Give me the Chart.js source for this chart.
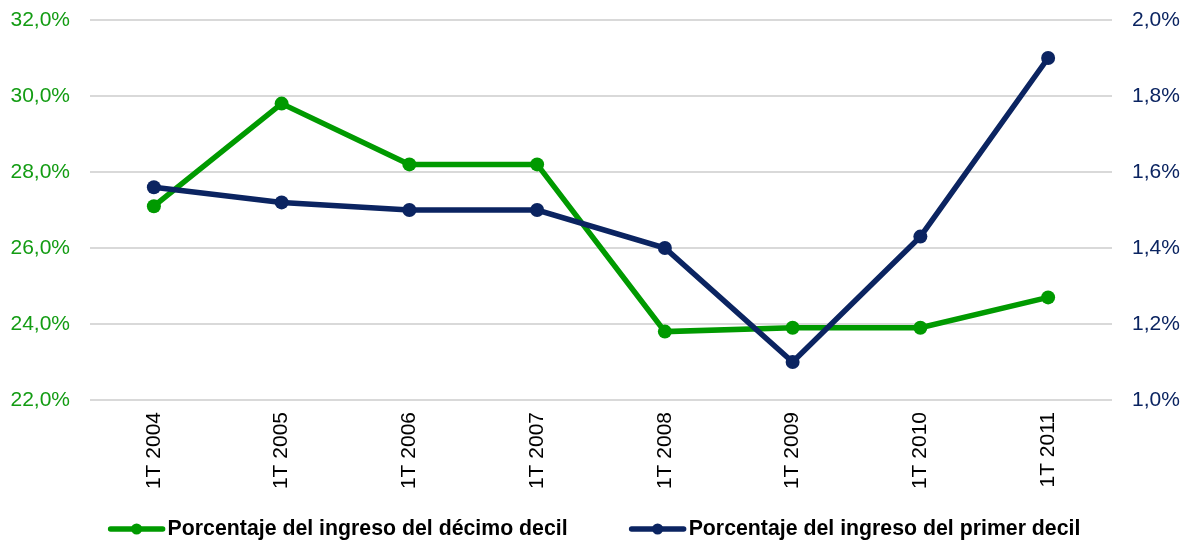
<!DOCTYPE html>
<html><head><meta charset="utf-8">
<script src="https://cdn.jsdelivr.net/npm/chart.js@4/dist/chart.umd.min.js"></script>
<style>html,body{margin:0;padding:0;background:#fff;} #wrap{width:1181px;height:540px;position:relative;}</style>
</head><body><div id="wrap"><canvas id="c"></canvas></div>
<script>
const categories = ['1T 2004','1T 2005','1T 2006','1T 2007','1T 2008','1T 2009','1T 2010','1T 2011'];
const decimoDecil = [27.1, 29.8, 28.2, 28.2, 23.8, 23.9, 23.9, 24.7];
const primerDecil = [1.56, 1.52, 1.50, 1.50, 1.40, 1.10, 1.43, 1.90];
const leftAxis = {min: 22, max: 32, step: 2};
const rightAxis = {min: 1.0, max: 2.0, step: 0.2};
const seriesNames = ['Porcentaje del ingreso del décimo decil', 'Porcentaje del ingreso del primer decil'];

const GREEN = '#009a00';
const GREEN_TXT = '#139c13';
const NAVY = '#0b2461';
const FONT = "'Liberation Sans', Arial, Helvetica, sans-serif";

const fmt = v => Number(v).toFixed(1).replace('.', ',') + '%';

// Legend drawn from the chart's datasets (line with marker + bold label)
const lineLegend = {
  id: 'lineLegend',
  afterDraw(chart) {
    const ctx = chart.ctx;
    ctx.save();
    ctx.font = 'bold 21.3px ' + FONT;
    const items = chart.data.datasets.map(d => ({label: d.label, color: d.borderColor, w: ctx.measureText(d.label).width}));
    const lineLen = 56, textGap = 3, itemGap = 62;
    const total = items.reduce((s, it) => s + lineLen + textGap + it.w, 0) + itemGap * (items.length - 1);
    let x = (chart.width - total) / 2 + 4;
    const yLine = chart.height - 11;
    const yText = chart.height - 5;
    items.forEach(it => {
      ctx.strokeStyle = it.color; ctx.lineWidth = 5.5; ctx.lineCap = 'round';
      ctx.beginPath(); ctx.moveTo(x + 2, yLine); ctx.lineTo(x + lineLen - 2, yLine); ctx.stroke();
      ctx.fillStyle = it.color;
      ctx.beginPath(); ctx.arc(x + lineLen / 2, yLine, 5.5, 0, Math.PI * 2); ctx.fill();
      ctx.fillStyle = '#000'; ctx.textBaseline = 'alphabetic'; ctx.textAlign = 'left';
      ctx.fillText(it.label, x + lineLen + textGap, yText);
      x += lineLen + textGap + it.w + itemGap;
    });
    ctx.restore();
  }
};

function fixVertical(width) {
  return function (s) { s.width = width; s.paddingTop = 0; s.paddingBottom = 0; };
}

new Chart(document.getElementById('c'), {
  type: 'line',
  data: {
    labels: categories,
    datasets: [
      {label: seriesNames[0], data: decimoDecil, yAxisID: 'y', borderColor: GREEN, backgroundColor: GREEN,
       borderWidth: 5.5, pointRadius: 7, pointHoverRadius: 7, pointBorderWidth: 0, pointBackgroundColor: GREEN, tension: 0, order: 2},
      {label: seriesNames[1], data: primerDecil, yAxisID: 'y1', borderColor: NAVY, backgroundColor: NAVY,
       borderWidth: 5.5, pointRadius: 7, pointHoverRadius: 7, pointBorderWidth: 0, pointBackgroundColor: NAVY, tension: 0, order: 1}
    ]
  },
  options: {
    responsive: true, maintainAspectRatio: false, animation: false, devicePixelRatio: 1,
    layout: {padding: {top: 20, left: 0, right: 0, bottom: 0}},
    plugins: {
      tooltip: {enabled: false},
      legend: {display: false}
    },
    scales: {
      x: {
        offset: true,
        grid: {display: false, drawTicks: false}, border: {display: false},
        ticks: {color: '#000', font: {family: FONT, size: 21}, maxRotation: 90, minRotation: 90, padding: 12, autoSkip: false},
        afterFit(s) { s.height = 140; s.paddingLeft = 0; s.paddingRight = 0; }
      },
      y: {
        position: 'left', min: leftAxis.min, max: leftAxis.max,
        grid: {color: '#d9d9d9', lineWidth: 2, drawTicks: false}, border: {display: false},
        ticks: {stepSize: leftAxis.step, color: GREEN_TXT, font: {family: FONT, size: 21}, padding: 20, callback: v => fmt(v)},
        afterFit: fixVertical(90)
      },
      y1: {
        position: 'right', min: rightAxis.min, max: rightAxis.max,
        grid: {drawOnChartArea: false, drawTicks: false}, border: {display: false},
        ticks: {stepSize: rightAxis.step, color: NAVY, font: {family: FONT, size: 21}, padding: 20, callback: v => fmt(v)},
        afterFit: fixVertical(69)
      }
    }
  },
  plugins: [lineLegend]
});
</script></body></html>
